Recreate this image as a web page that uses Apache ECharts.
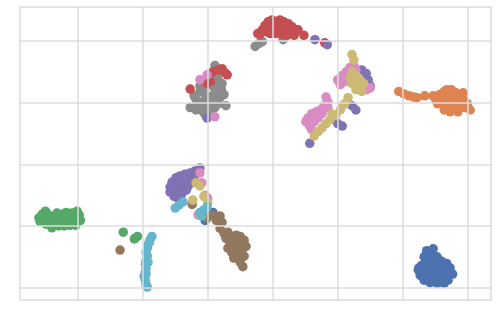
<!DOCTYPE html>
<html><head><meta charset="utf-8">
<script src="https://cdn.jsdelivr.net/npm/echarts@6/dist/echarts.min.js"></script>
<style>html,body{margin:0;padding:0;background:#fff}#c{width:499px;height:319px}</style>
</head><body><div id="c"></div>
<script>
const names = ['0','1','2','3','4','5','6','7','8','9'];
const colors = ['#4C72B0','#DD8452','#55A868','#C44E52','#8172B3','#937860','#DA8BC3','#8C8C8C','#CCB974','#64B5CD'];
const xGridValues = [-30,-20,-10,0,10,20,30];
const yGridValues = [-20,-10,0,10,20];
const s0 = [[23.7,-14.0],[24.7,-13.7],[24.2,-14.7],[23.3,-15.0],[25.3,-15.0],[26.0,-15.7],[26.8,-16.1],[27.3,-16.8],[27.7,-17.8],[26.7,-17.4],[25.7,-16.8],[24.8,-16.1],[23.9,-15.7],[22.9,-16.4],[22.4,-17.1],[22.7,-18.0],[23.6,-17.4],[24.5,-17.1],[25.4,-17.8],[26.4,-18.5],[27.0,-18.8],[25.7,-18.8],[24.8,-18.5],[23.9,-18.5],[23.3,-18.8],[24.2,-19.2],[25.3,-19.3],[26.4,-19.3],[22.5,-16.8],[24.9,-17.1],[25.0,-15.9],[26.0,-17.0],[24.0,-17.8],[25.2,-18.2],[23.0,-17.3],[26.9,-17.6],[24.3,-16.5],[-9.2,-7.8],[-10.4,-9.1]];
const s1 = [[19.4,11.8],[20.2,11.4],[21.0,11.1],[21.7,10.9],[22.2,10.8],[23.4,11.1],[24.7,11.1],[25.1,10.5],[25.7,11.3],[26.4,11.8],[26.8,12.1],[27.5,12.1],[28.2,11.6],[28.8,11.1],[29.4,10.5],[30.0,9.8],[30.4,8.8],[29.7,9.2],[28.8,9.8],[27.9,10.5],[27.0,10.8],[26.0,10.1],[26.7,9.5],[27.5,9.2],[28.5,8.5],[29.1,9.2],[27.3,8.5],[25.7,10.8],[28.0,11.1],[29.3,11.6],[25.4,9.8],[26.4,8.8],[27.0,9.8],[28.3,9.8],[28.5,10.9],[26.2,10.8]];
const s2 = [[-36.0,-8.7],[-35.5,-8.1],[-35.0,-7.6],[-34.6,-8.1],[-34.3,-8.7],[-34.0,-9.3],[-34.0,-10.3],[-33.5,-9.7],[-33.2,-7.9],[-32.7,-8.5],[-32.4,-9.3],[-31.95,-9.1],[-31.8,-7.8],[-31.3,-8.4],[-30.9,-9.3],[-30.6,-8.7],[-30.1,-7.6],[-29.8,-8.2],[-29.6,-9.1],[-30.3,-9.9],[-31.2,-9.9],[-32.1,-10.0],[-33.0,-10.0],[-34.9,-9.7],[-35.2,-9.1],[-33.6,-8.4],[-32.4,-8.1],[-30.9,-7.9],[-35.8,-9.3],[-23.0,-11.0],[-21.3,-12.1],[-21.2,-12.0],[-20.8,-11.7]];
const s3 = [[-2.3,21.2],[-1.6,21.8],[-1.2,22.5],[-0.7,23.1],[-0.1,23.4],[0.5,23.1],[1.1,23.4],[1.7,23.1],[2.4,22.8],[3.0,22.3],[3.4,21.7],[2.7,21.3],[1.7,21.8],[0.8,22.2],[-0.1,21.8],[-1.0,21.5],[-2.0,21.0],[-0.4,21.2],[0.5,21.2],[1.4,21.0],[2.2,20.9],[3.3,20.9],[3.9,21.8],[-0.4,22.5],[1.1,22.6],[2.0,22.2],[4.8,20.9],[8.0,19.7],[-9.2,15.0],[-8.4,15.3],[-7.8,15.5],[-7.3,14.8],[-7.0,14.5],[-10.1,13.1],[-9.6,13.4],[-12.7,12.2]];
const s4 = [[-11.2,-0.6],[-12.0,-1.1],[-12.7,-1.4],[-13.5,-1.6],[-14.3,-1.9],[-14.9,-2.2],[-15.5,-2.9],[-15.8,-3.7],[-15.8,-4.5],[-15.2,-5.2],[-14.6,-5.5],[-14.0,-4.8],[-13.3,-4.2],[-14.3,-3.5],[-14.9,-4.2],[-13.6,-2.9],[-12.7,-2.6],[-12.1,-2.2],[-15.5,-3.7],[-14.6,-2.6],[-13.0,-3.5],[-13.8,-3.5],[-14.0,-2.2],[-12.5,-1.9],[13.7,15.3],[14.4,14.7],[14.7,13.7],[15.0,12.7],[14.0,12.7],[12.2,9.5],[12.8,8.8],[10.0,6.6],[10.7,6.2],[5.7,3.4],[6.5,20.2],[8.4,19.4],[-10.1,7.5]];
const s5 = [[-10.1,-8.7],[-9.3,-8.2],[-8.7,-9.1],[-8.1,-8.4],[-7.8,-9.4],[-8.1,-10.4],[-7.5,-11.2],[-6.9,-11.0],[-6.3,-11.7],[-5.6,-11.5],[-5.0,-11.7],[-4.4,-12.3],[-4.1,-13.3],[-4.7,-13.9],[-5.3,-14.6],[-4.4,-14.9],[-5.0,-15.9],[-4.6,-16.6],[-5.6,-13.3],[-6.6,-12.6],[-6.9,-13.6],[-6.3,-14.3],[-5.3,-12.3],[-6.0,-15.2],[-7.2,-12.0],[-5.8,-12.8],[-4.9,-14.2],[-5.5,-14.9],[-6.0,-13.9],[-4.8,-13.0],[-23.5,-13.9],[-12.4,-6.5]];
const s6 = [[10.4,12.9],[10.0,13.7],[10.7,14.4],[11.3,15.0],[11.9,15.7],[12.5,16.0],[12.8,15.3],[11.1,13.4],[11.6,14.0],[14.5,12.1],[15.0,12.4],[8.2,10.9],[8.5,10.1],[7.9,9.5],[7.3,8.8],[6.7,8.5],[6.0,8.2],[5.4,7.5],[5.1,6.9],[5.7,6.2],[6.4,6.9],[7.0,7.5],[7.6,8.2],[6.0,5.6],[8.5,9.2],[6.7,7.9],[-10.1,14.5],[-11.2,13.7],[-8.9,7.7],[-11.2,-1.4],[-10.9,-3.0],[-10.4,-5.0],[-10.0,-5.5],[-11.5,-8.2]];
const s7 = [[-8.9,16.0],[-8.1,15.0],[-9.3,14.0],[-8.4,13.7],[-7.8,13.1],[-10.0,12.9],[-9.0,12.4],[-11.2,11.8],[-10.4,11.3],[-9.3,11.1],[-8.4,11.8],[-7.5,11.3],[-11.8,10.5],[-10.9,10.1],[-9.6,9.8],[-8.4,9.8],[-7.2,9.5],[-12.7,9.2],[-11.8,8.8],[-10.7,8.5],[-9.6,8.8],[-8.9,9.2],[-10.3,7.9],[-8.1,10.8],[-11.2,12.7],[-12.1,11.1],[-10.5,12.0],[-9.8,10.5],[-8.9,10.5],[-10.2,9.2],[-11.5,9.8],[-9.5,13.0],[-8.6,12.6],[-7.9,12.2],[-2.7,19.1],[-2.1,19.6],[-1.6,19.9],[1.6,20.2]];
const s8 = [[12.2,17.8],[12.5,16.9],[12.2,15.0],[12.8,14.4],[13.4,13.7],[14.0,13.1],[13.1,12.7],[12.2,13.1],[12.8,12.1],[13.7,11.8],[11.9,14.0],[11.6,10.8],[11.1,9.8],[10.4,8.8],[9.7,7.9],[8.8,7.2],[8.2,6.6],[7.6,5.9],[7.0,5.3],[6.4,4.6],[9.1,8.2],[10.7,9.5],[-11.8,-3.0],[-11.2,-3.5],[-10.6,-5.2],[-12.3,-5.8],[-10.0,-6.3],[-11.2,-8.2]];
const s9 = [[-18.6,-11.7],[-18.9,-12.3],[-19.2,-13.0],[-19.3,-13.6],[-19.5,-14.3],[-19.3,-14.9],[-19.5,-15.6],[-19.6,-16.2],[-19.5,-16.9],[-19.6,-17.5],[-19.8,-18.2],[-19.6,-18.8],[-19.5,-19.5],[-19.3,-19.9],[-19.0,-12.7],[-19.2,-15.9],[-19.5,-17.8],[-15.0,-7.1],[-14.4,-6.6],[-13.8,-6.1],[-11.2,-7.8],[-10.6,-7.4],[-10.1,-6.9],[-10.9,-8.4]];
const seriesData = [s0,s1,s2,s3,s4,s5,s6,s7,s8,s9];
const drawOrder = [7,0,1,2,3,4,5,6,8,9];

const gridColor = '#dcdcdc';
const chart = echarts.init(document.getElementById('c'), null, {renderer:'canvas'});
const gridSeries = {
  type:'line', data:[], silent:true, z:0,
  markLine:{
    silent:true, symbol:['none','none'], animation:false,
    label:{show:false},
    lineStyle:{color:gridColor, width:1.5, type:'solid'},
    emphasis:{disabled:true},
    data: xGridValues.map(v => ({xAxis:v})).concat(yGridValues.map(v => ({yAxis:v})))
  }
};
chart.setOption({
  animation: false,
  grid: {left: 20, right: 8, top: 7, bottom: 19, show: true, borderColor: gridColor, borderWidth: 1.5},
  xAxis: {type:'value', min:-38.9, max:33.6,
    axisLine:{show:false}, axisTick:{show:false}, axisLabel:{show:false}, splitLine:{show:false}},
  yAxis: {type:'value', min:-22.0, max:25.5,
    axisLine:{show:false}, axisTick:{show:false}, axisLabel:{show:false}, splitLine:{show:false}},
  series: [gridSeries].concat(drawOrder.map(i => ({
    name: names[i], type:'scatter', data: seriesData[i], symbolSize: 9.5, z: 3,
    itemStyle:{color: colors[i], opacity: 1}
  })))
});
</script>
</body></html>
